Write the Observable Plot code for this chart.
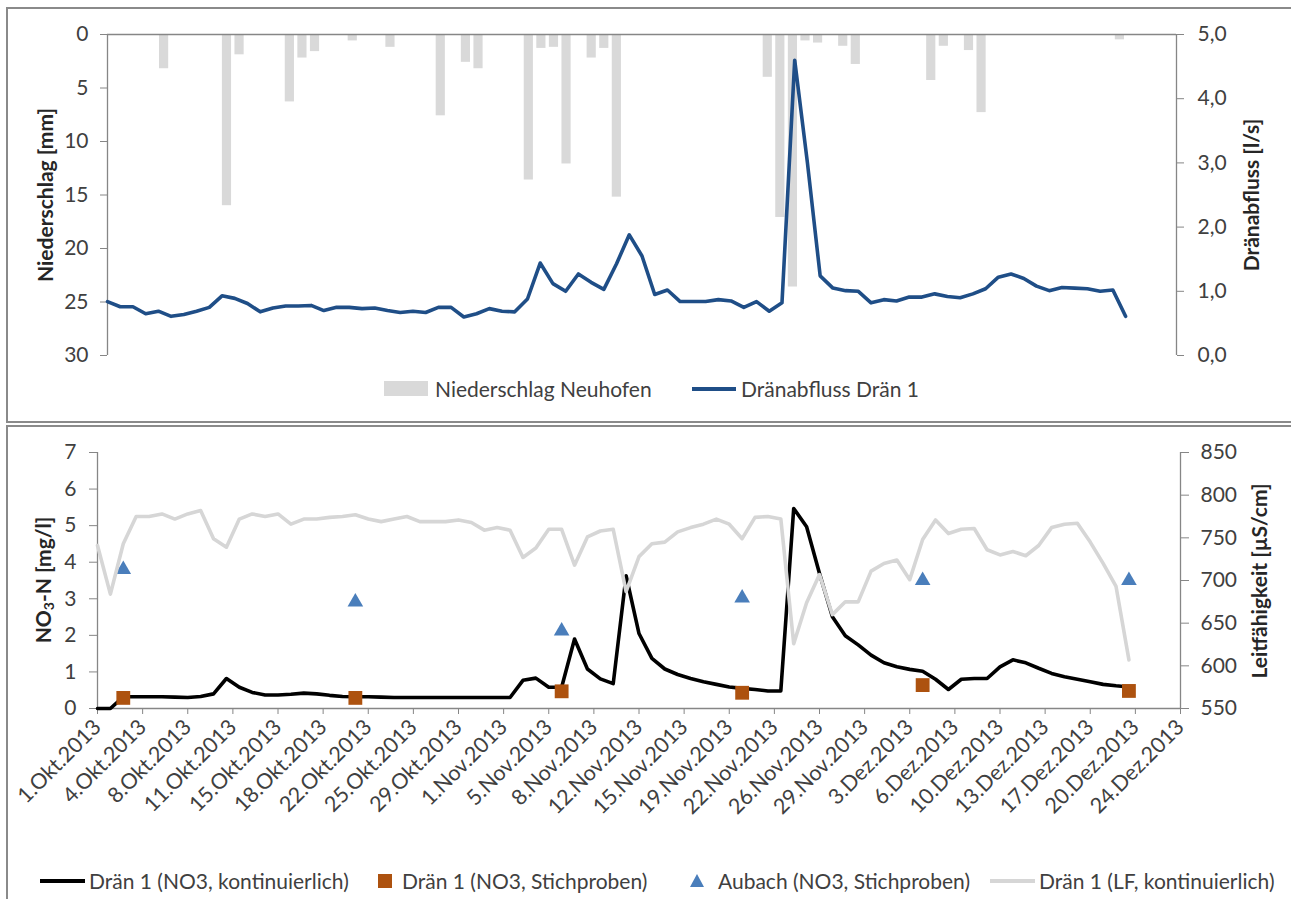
<!DOCTYPE html>
<html><head><meta charset="utf-8">
<script src="https://cdn.jsdelivr.net/npm/d3@7"></script>
<script src="https://cdn.jsdelivr.net/npm/@observablehq/plot@0.6"></script>
<style>
body{margin:0;background:#fff;font-family:Lato,"Open Sans",sans-serif;}
#root{position:relative;width:1291px;height:899px;overflow:hidden;background:#fff;}
.frame{position:absolute;border:2px solid #8a8a8a;box-sizing:border-box;}
.ytitle{position:absolute;font-weight:bold;font-size:21px;color:#262626;white-space:nowrap;transform:translate(-50%,-50%) rotate(-90deg);line-height:1;}
.ytitle sub{font-size:14px;vertical-align:-3px;}
.leg{position:absolute;font-size:21px;color:#404040;white-space:nowrap;line-height:21px;}
.sw{position:absolute;}
</style></head>
<body><div id="root"></div>
<script>
// ---------- data ----------
const dayCount = 81;        // 1.Okt.2013 ... 20.Dez.2013 (daily)
const axisDays = 84;        // axis span 1.Okt.2013 ... 24.Dez.2013

const precipitation = [ // Niederschlag Neuhofen [mm]
  0,0,0,0,3.2,0,0,0,0,16.0,
  1.9,0,0,0,6.3,2.2,1.6,0,0,0.6,
  0,0,1.2,0,0,0,7.6,0,2.6,3.2,
  0,0,0,13.6,1.3,1.2,12.1,0,2.2,1.3,
  15.2,0,0,0,0,0,0,0,0,0,
  0,0,4.0,17.1,23.6,0.6,0.8,0,1.1,2.8,
  0,0,0,0,0,4.3,1.1,0,1.5,7.3,
  0,0,0,0,0,0,0,0,0,0,
  0.5];

const discharge = [ // Dränabfluss Drän 1 [l/s]
  0.84,0.76,0.76,0.65,0.69,0.61,0.64,0.69,0.75,0.93,
  0.89,0.81,0.68,0.74,0.77,0.77,0.78,0.70,0.75,0.75,
  0.73,0.74,0.70,0.67,0.69,0.67,0.75,0.75,0.60,0.65,
  0.73,0.69,0.68,0.88,1.44,1.12,1.00,1.27,1.14,1.03,
  1.43,1.88,1.55,0.95,1.02,0.84,0.84,0.84,0.87,0.85,
  0.75,0.84,0.69,0.82,4.60,3.00,1.24,1.05,1.01,1.00,
  0.82,0.87,0.85,0.91,0.91,0.96,0.92,0.90,0.96,1.04,
  1.22,1.27,1.20,1.08,1.01,1.06,1.05,1.04,1.00,1.02,
  0.61];

const no3Continuous = [ // Drän 1 (NO3, kontinuierlich) [mg/l]
  0,0,0.32,0.32,0.32,0.32,0.31,0.30,0.33,0.40,
  0.82,0.58,0.44,0.37,0.37,0.39,0.42,0.40,0.36,0.33,
  0.32,0.32,0.31,0.30,0.30,0.30,0.30,0.30,0.30,0.30,
  0.30,0.30,0.30,0.77,0.83,0.58,0.58,1.90,1.08,0.81,
  0.68,3.63,2.05,1.37,1.08,0.93,0.82,0.73,0.66,0.59,
  0.55,0.52,0.48,0.48,5.47,4.97,3.69,2.51,1.99,1.74,
  1.46,1.25,1.14,1.07,1.02,0.80,0.52,0.80,0.82,0.82,
  1.14,1.33,1.25,1.10,0.96,0.87,0.80,0.73,0.66,0.62,
  0.59];

const conductivity = [ // Drän 1 (LF, kontinuierlich) [µS/cm]
  741,684,743,775,775,778,772,778,782,749,
  739,772,778,775,778,766,772,772,774,775,
  777,772,769,772,775,769,769,769,771,768,
  759,762,759,727,738,760,760,718,751,758,
  760,687,728,743,745,757,762,766,772,766,
  749,774,775,772,626,674,707,660,675,675,
  711,720,724,701,748,771,755,760,761,736,
  730,734,729,741,762,766,767,745,720,693,
  607];

const sampleDays = [2, 20, 36, 50, 64, 80];
const drainSamples = [0.29, 0.29, 0.47, 0.43, 0.64, 0.48];     // Drän 1 (NO3, Stichproben)
const aubachSamples = [3.80, 2.91, 2.12, 3.02, 3.50, 3.50];    // Aubach (NO3, Stichproben)

const precipTicks = [0, 5, 10, 15, 20, 25, 30];
const flowTicks = [0, 1, 2, 3, 4, 5];
const flowTickLabels = ["0,0", "1,0", "2,0", "3,0", "4,0", "5,0"];
const no3Ticks = [0, 1, 2, 3, 4, 5, 6, 7];
const lfTicks = [550, 600, 650, 700, 750, 800, 850];
const xTickDays = [0,3.5,7,10.5,14,17.5,21,24.5,28,31.5,35,38.5,42,45.5,49,52.5,56,59.5,63,66.5,70,73.5,77,80.5,84];
const xTickLabels = ["1.Okt.2013","4.Okt.2013","8.Okt.2013","11.Okt.2013","15.Okt.2013","18.Okt.2013","22.Okt.2013","25.Okt.2013","29.Okt.2013","1.Nov.2013","5.Nov.2013","8.Nov.2013","12.Nov.2013","15.Nov.2013","19.Nov.2013","22.Nov.2013","26.Nov.2013","29.Nov.2013","3.Dez.2013","6.Dez.2013","10.Dez.2013","13.Dez.2013","17.Dez.2013","20.Dez.2013","24.Dez.2013"];

// ---------- styling ----------
const AXIS = "#868686", TXT = "#404040";
const BAR = "#d9d9d9", BLUE = "#1f4e87", LFGRAY = "#d6d6d6", SQ = "#ad520f", TRI = "#4a7ebb";

const root = document.getElementById("root");

// secondary-axis mappings onto the primary scales
const precipMax = 30, flowMax = 5;
const flowToMm = q => precipMax - q * precipMax / flowMax;
const lfMin = 550, lfMax = 850, no3Max = 7;
const lfToNo3 = v => (v - lfMin) * no3Max / (lfMax - lfMin);

const days = d3.range(dayCount);
const slot = axisDays / (axisDays + 1); // column slots (85 categories)
const precipRows = days.map(i => ({day: i, mm: precipitation[i]})).filter(d => d.mm > 0);
const flowRows = days.map(i => ({day: i, q: discharge[i]}));
const no3Rows = days.map(i => ({day: i, v: no3Continuous[i]}));
const lfRows = days.map(i => ({day: i, v: conductivity[i]}));
const drainRows = sampleDays.map((d, i) => ({day: d, v: drainSamples[i]}));
const aubachRows = sampleDays.map((d, i) => ({day: d, v: aubachSamples[i]}));

// ---------- frames ----------
function el(tag, cls, style, html) {
  const e = document.createElement(tag);
  if (cls) e.className = cls;
  Object.assign(e.style, style);
  if (html != null) e.innerHTML = html;
  root.appendChild(e);
  return e;
}
el("div", "frame", {left: "6px", top: "7px", width: "1292px", height: "416px"});
el("div", "frame", {left: "6px", top: "425px", width: "1292px", height: "480px"});

const FS = 21;

// ---------- top chart ----------
const topPlot = Plot.plot({
  width: 1291, height: 370,
  marginLeft: 107, marginRight: 115, marginTop: 34, marginBottom: 15,
  style: {position: "absolute", left: "0px", top: "0px", fontFamily: "Lato", fontSize: FS + "px", overflow: "visible", background: "transparent"},
  x: {domain: [0, axisDays], axis: null},
  y: {domain: [0, precipMax], reverse: true, axis: null},
  marks: [
    Plot.rect(precipRows, {x1: d => d.day * slot, x2: d => (d.day + 1) * slot, y1: 0, y2: "mm", fill: BAR, insetLeft: 1.7, insetRight: 1.7}),
    Plot.ruleY([0], {stroke: AXIS, strokeWidth: 1.3}),
    Plot.ruleX([0, axisDays], {stroke: AXIS, strokeWidth: 1.3}),
    Plot.axisY({anchor: "left", ticks: precipTicks, tickFormat: v => String(v), tickSize: 7, tickPadding: 12, stroke: AXIS, fill: TXT, label: null, fontSize: FS}),
    Plot.axisY({anchor: "right", ticks: flowTicks.map(flowToMm), tickFormat: v => flowTickLabels[flowTicks.findIndex(q => Math.abs(flowToMm(q) - v) < 1e-9)], tickSize: 7, tickPadding: 14, stroke: AXIS, fill: TXT, label: null, fontSize: FS}),
    Plot.line(flowRows, {x: "day", y: d => flowToMm(d.q), stroke: BLUE, strokeWidth: 3.6})
  ]
});
root.appendChild(topPlot);

// ---------- bottom chart ----------
const botTop = 430;
const botPlot = Plot.plot({
  width: 1291, height: 400,
  marginLeft: 97, marginRight: 111, marginTop: 452 - botTop, marginBottom: 400 - (708 - botTop),
  style: {position: "absolute", left: "0px", top: botTop + "px", fontFamily: "Lato", fontSize: FS + "px", overflow: "visible", background: "transparent"},
  x: {domain: [0, axisDays]},
  y: {domain: [0, no3Max]},
  marks: [
    Plot.ruleY([0], {stroke: AXIS, strokeWidth: 1.3}),
    Plot.ruleX([0, axisDays], {stroke: AXIS, strokeWidth: 1.3}),
    Plot.axisY({anchor: "left", ticks: no3Ticks, tickFormat: v => String(v), tickSize: 8, tickPadding: 13, stroke: AXIS, fill: TXT, label: null, fontSize: FS}),
    Plot.axisY({anchor: "right", ticks: lfTicks.map(lfToNo3), tickFormat: v => String(lfTicks[lfTicks.findIndex(t => Math.abs(lfToNo3(t) - v) < 1e-9)]), tickSize: 8, tickPadding: 12, stroke: AXIS, fill: TXT, label: null, fontSize: FS}),
    Plot.axisX({anchor: "bottom", ticks: xTickDays, tickFormat: v => xTickLabels[xTickDays.indexOf(v)], tickRotate: -45, tickSize: 6, tickPadding: 9, stroke: AXIS, fill: TXT, label: null, fontSize: 21.5}),
    Plot.line(no3Rows, {x: "day", y: "v", stroke: "#000", strokeWidth: 3.6}),
    Plot.dot(drainRows, {x: "day", y: "v", symbol: "square", r: 7.8, fill: SQ, stroke: null}),
    Plot.dot(aubachRows, {x: "day", y: "v", symbol: "triangle", r: 5.8, fill: TRI, stroke: null}),
    Plot.line(lfRows, {x: "day", y: d => lfToNo3(d.v), stroke: LFGRAY, strokeWidth: 3.6})
  ]
});
root.appendChild(botPlot);

// ---------- axis titles ----------
el("div", "ytitle", {left: "44px", top: "195px"}, "Niederschlag [mm]");
el("div", "ytitle", {left: "1250px", top: "195px"}, "Dränabfluss [l/s]");
el("div", "ytitle", {left: "44px", top: "580px"}, "NO<sub>3</sub>-N [mg/l]");
el("div", "ytitle", {left: "1258px", top: "581px"}, "Leitfähigkeit [µS/cm]");

// ---------- legends ----------
el("div", "sw", {left: "384px", top: "381px", width: "44px", height: "15px", background: BAR});
el("div", "leg", {left: "435px", top: "378px"}, "Niederschlag Neuhofen");
el("div", "sw", {left: "692px", top: "387px", width: "44px", height: "3.5px", background: BLUE});
el("div", "leg", {left: "741px", top: "378px"}, "Dränabfluss Drän 1");

el("div", "sw", {left: "40px", top: "879px", width: "45px", height: "3.5px", background: "#000"});
el("div", "leg", {left: "89px", top: "870px"}, "Drän 1 (NO3, kontinuierlich)");
el("div", "sw", {left: "378px", top: "874px", width: "14px", height: "14px", background: SQ});
el("div", "leg", {left: "402px", top: "870px"}, "Drän 1 (NO3, Stichproben)");
el("div", "sw", {left: "690px", top: "874px", width: "0", height: "0", borderLeft: "7px solid transparent", borderRight: "7px solid transparent", borderBottom: "13px solid " + TRI});
el("div", "leg", {left: "718px", top: "870px"}, "Aubach (NO3, Stichproben)");
el("div", "sw", {left: "990px", top: "879px", width: "45px", height: "3.5px", background: LFGRAY});
el("div", "leg", {left: "1039px", top: "870px"}, "Drän 1 (LF, kontinuierlich)");
</script></body></html>
